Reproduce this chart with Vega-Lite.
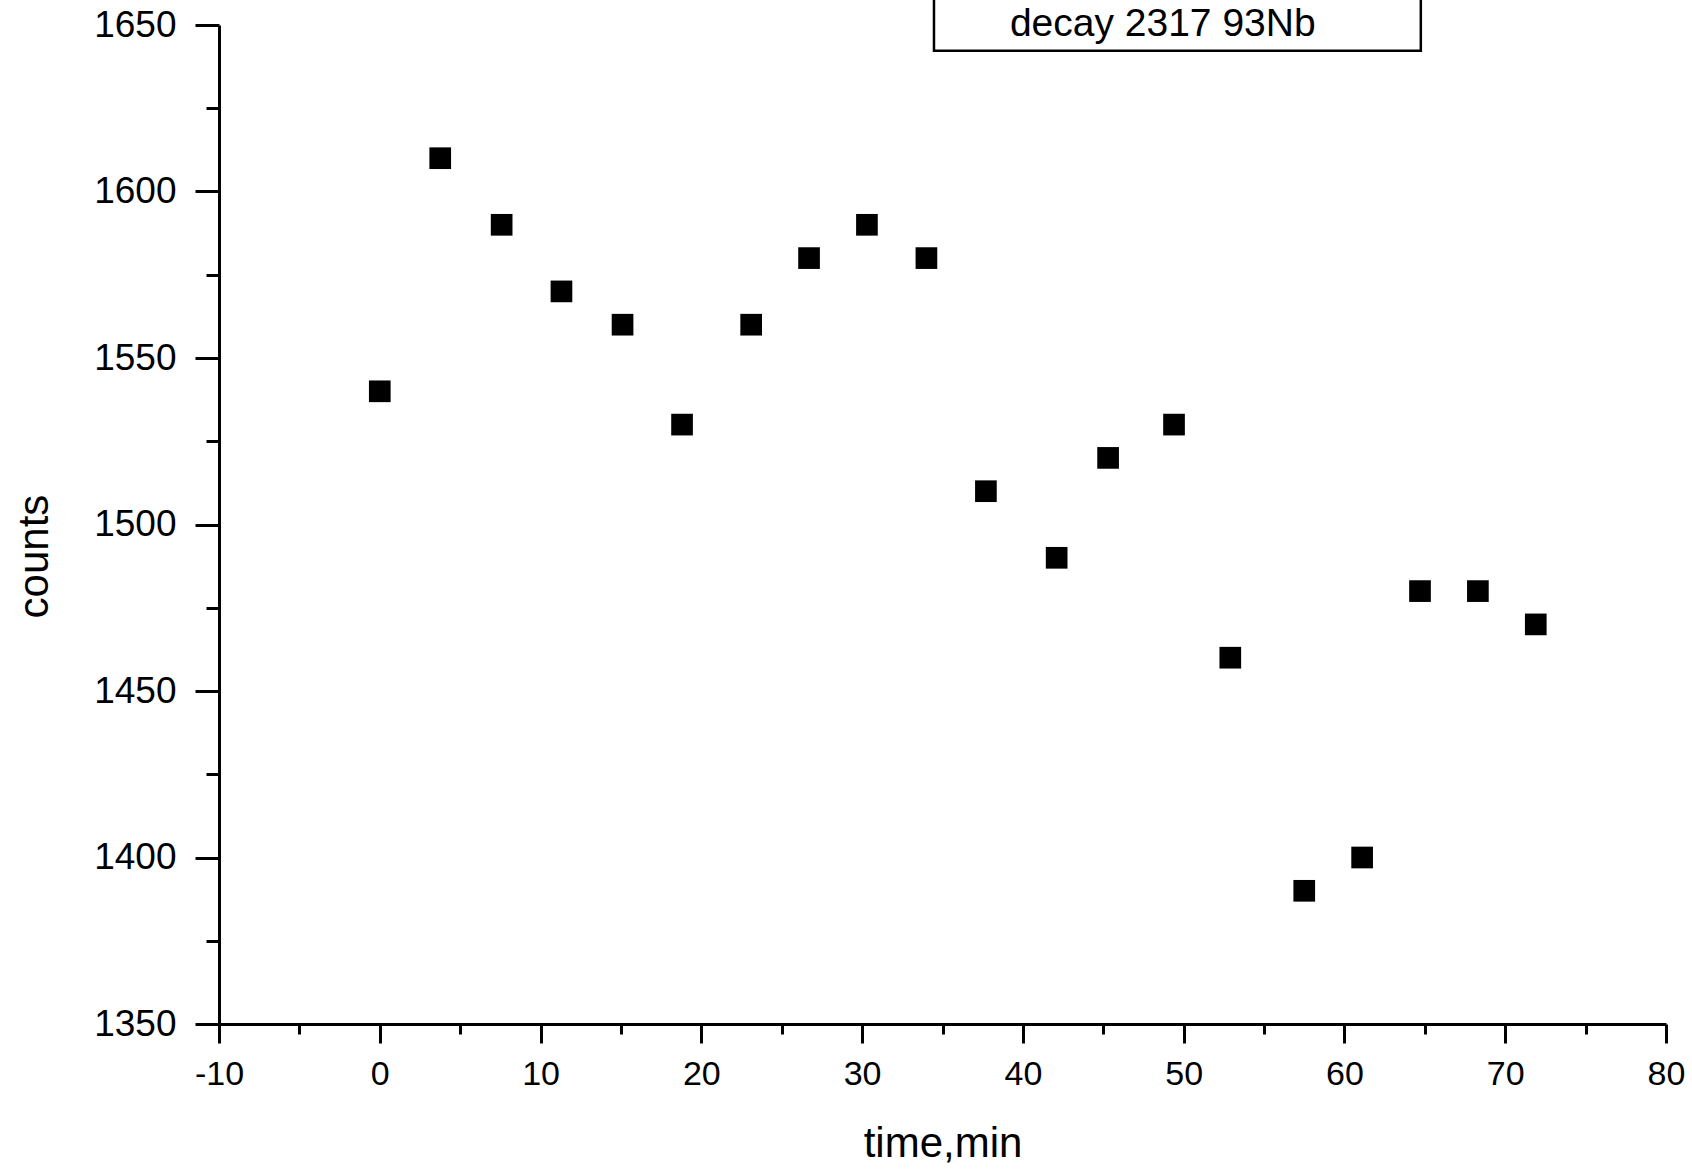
{
  "$schema": "https://vega.github.io/schema/vega-lite/v6.json",
  "width": 1447,
  "height": 999,
  "autosize": {"type": "none"},
  "padding": {"left": 219, "top": 25, "right": 26, "bottom": 145},
  "background": "white",
  "config": {"view": {"stroke": null}, "font": "Liberation Sans"},
  "datasets": {
    "points": [
      {"time": 0, "counts": 1540},
      {"time": 3.76, "counts": 1610},
      {"time": 7.58, "counts": 1590},
      {"time": 11.3, "counts": 1570},
      {"time": 15.1, "counts": 1560},
      {"time": 18.8, "counts": 1530},
      {"time": 23.1, "counts": 1560},
      {"time": 26.7, "counts": 1580},
      {"time": 30.3, "counts": 1590},
      {"time": 34.0, "counts": 1580},
      {"time": 37.7, "counts": 1510},
      {"time": 42.1, "counts": 1490},
      {"time": 45.3, "counts": 1520},
      {"time": 49.4, "counts": 1530},
      {"time": 52.9, "counts": 1460},
      {"time": 57.5, "counts": 1390},
      {"time": 61.1, "counts": 1400},
      {"time": 64.7, "counts": 1480},
      {"time": 68.3, "counts": 1480},
      {"time": 71.9, "counts": 1470}
    ],
    "legend": [{"label": "decay 2317 93Nb"}]
  },
  "layer": [
    {
      "data": {"name": "points"},
      "mark": {"type": "point", "shape": "square", "filled": true, "size": 470, "color": "black", "opacity": 1},
      "encoding": {
        "x": {
          "field": "time", "type": "quantitative",
          "scale": {"domain": [-10, 80], "nice": false, "zero": false},
          "axis": {
            "orient": "bottom",
            "values": [-10, 0, 10, 20, 30, 40, 50, 60, 70, 80],
            "labelExpr": "'' + datum.value",
            "grid": false,
            "domainColor": "black", "domainWidth": 3,
            "tickColor": "black", "tickWidth": 3, "tickSize": 19,
            "labelFontSize": 34, "labelColor": "black", "labelPadding": 14,
            "labelFlush": false, "labelOverlap": false,
            "title": "time,min", "titleFontSize": 42, "titleFontWeight": "normal",
            "titleColor": "black", "titleBaseline": "alphabetic", "titleY": 132
          }
        },
        "y": {
          "field": "counts", "type": "quantitative",
          "scale": {"domain": [1350, 1650], "nice": false, "zero": false},
          "axis": {
            "orient": "left",
            "values": [1350, 1400, 1450, 1500, 1550, 1600, 1650],
            "labelExpr": "'' + datum.value",
            "grid": false,
            "domainColor": "black", "domainWidth": 3,
            "tickColor": "black", "tickWidth": 3, "tickSize": 24,
            "labelFontSize": 37, "labelColor": "black", "labelPadding": 19,
            "labelFlush": false, "labelOverlap": false,
            "title": "counts", "titleFontSize": 42, "titleFontWeight": "normal",
            "titleColor": "black", "titleBaseline": "alphabetic", "titleAngle": 270,
            "titleX": -172, "titleY": 531, "titleAlign": "center"
          }
        }
      }
    },
    {
      "data": {"name": "legend"},
      "mark": {"type": "rect", "fill": "white", "stroke": "black", "strokeWidth": 2.5},
      "encoding": {
        "x": {
          "datum": 34.47, "type": "quantitative",
          "scale": {"domain": [-10, 80], "nice": false, "zero": false},
          "axis": {
            "orient": "bottom",
            "values": [-5, 5, 15, 25, 35, 45, 55, 65, 75],
            "grid": false, "domain": false, "labels": false, "title": null,
            "tickColor": "black", "tickWidth": 3, "tickSize": 10
          }
        },
        "x2": {"datum": 64.75},
        "y": {
          "datum": 1642.3, "type": "quantitative",
          "scale": {"domain": [1350, 1650], "nice": false, "zero": false},
          "axis": {
            "orient": "left",
            "values": [1375, 1425, 1475, 1525, 1575, 1625],
            "grid": false, "domain": false, "labels": false, "title": null,
            "tickColor": "black", "tickWidth": 3, "tickSize": 13
          }
        },
        "y2": {"datum": 1668}
      }
    },
    {
      "data": {"name": "legend"},
      "mark": {"type": "text", "align": "center", "baseline": "alphabetic", "fontSize": 39, "color": "black", "font": "Liberation Sans"},
      "encoding": {
        "x": {"datum": 48.7, "type": "quantitative", "scale": {"domain": [-10, 80], "nice": false, "zero": false}, "axis": null},
        "y": {"datum": 1646.6, "type": "quantitative", "scale": {"domain": [1350, 1650], "nice": false, "zero": false}, "axis": null},
        "text": {"field": "label", "type": "nominal"}
      }
    }
  ],
  "resolve": {"axis": {"x": "independent", "y": "independent"}}
}
